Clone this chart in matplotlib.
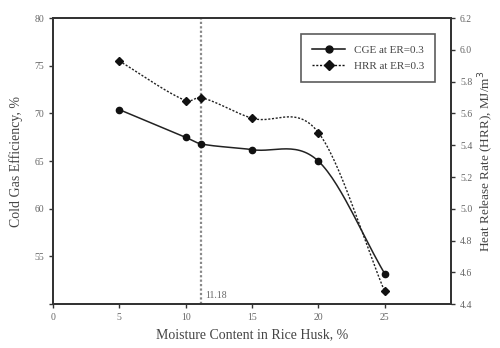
import numpy as np
import matplotlib
matplotlib.use("Agg")
import matplotlib.pyplot as plt
from matplotlib.lines import Line2D

plt.rcParams['font.family'] = ['Liberation Serif', 'DejaVu Serif']

moisture = [5, 10, 11.18, 15, 20, 25]
cge = [70.4, 67.5, 66.8, 66.2, 65.0, 53.2]
hrr = [5.93, 5.68, 5.70, 5.57, 5.48, 4.48]
x_ticks = [0, 5, 10, 15, 20, 25]
left_ticks = [50, 55, 60, 65, 70, 75, 80]
left_labels = ['', '55', '60', '65', '70', '75', '80']
right_ticks = [4.4, 4.6, 4.8, 5.0, 5.2, 5.4, 5.6, 5.8, 6.0, 6.2]
optimum = 11.18


def smooth(xs, ys, n=30):
    xs = np.asarray(xs, float)
    ys = np.asarray(ys, float)
    px = np.concatenate([[2 * xs[0] - xs[1]], xs, [2 * xs[-1] - xs[-2]]])
    py = np.concatenate([[2 * ys[0] - ys[1]], ys, [2 * ys[-1] - ys[-2]]])
    ox, oy = [], []
    for i in range(1, len(px) - 2):
        t = np.linspace(0, 1, n)
        h00 = 2 * t**3 - 3 * t**2 + 1
        h10 = t**3 - 2 * t**2 + t
        h01 = -2 * t**3 + 3 * t**2
        h11 = t**3 - t**2
        dx = px[i + 1] - px[i]
        m0 = (py[i + 1] - py[i - 1]) / (px[i + 1] - px[i - 1]) * dx
        m1 = (py[i + 2] - py[i]) / (px[i + 2] - px[i]) * dx
        ox.append(px[i] + t * dx)
        oy.append(h00 * py[i] + h10 * m0 + h01 * py[i + 1] + h11 * m1)
    return np.concatenate(ox), np.concatenate(oy)


fig = plt.figure(figsize=(5, 3.48), dpi=100)
ax = fig.add_axes([0.106, 0.126, 0.796, 0.822])
ax2 = ax.twinx()

spine_col = '#333333'
text_col = '#444444'

sx, sy = smooth(moisture, cge)
ax.plot(sx, sy, color='#222222', lw=1.1, zorder=3)
ax.plot(moisture, cge, 'o', color='#111111', ms=4.5, zorder=4)
hx, hy = smooth(moisture, hrr)
ax2.plot(hx, hy, color='#222222', lw=1.0, ls=(0, (1.5, 1.2)), zorder=3)
ax2.plot(moisture, hrr, 'D', color='#111111', ms=4.5, zorder=4)

ax.axvline(optimum, color='#888888', lw=1.6, ls=(0, (1, 1)), zorder=2)
ax.text(optimum + 0.3, 50.6, '11.18', fontsize=7, color='#666666')

ax.set_xlim(0, 30)
ax.set_ylim(50, 80)
ax2.set_ylim(4.4, 6.2)
ax.set_xticks(x_ticks)
ax.set_xticklabels([str(v) for v in x_ticks], fontsize=7, color='#666666')
ax.set_yticks(left_ticks)
ax.set_yticklabels(left_labels, fontsize=7, color='#666666')
ax2.set_yticks(right_ticks)
ax2.set_yticklabels(['%.1f' % v for v in right_ticks], fontsize=7, color='#666666')

for a in (ax, ax2):
    for s in a.spines.values():
        s.set_color(spine_col)
        s.set_linewidth(1.3)
    a.tick_params(length=3, width=1, color=spine_col, direction='out')

ax.set_xlabel('Moisture Content in Rice Husk, %', fontsize=10, color=text_col, labelpad=4)
ax.set_ylabel('Cold Gas Efficiency, %', fontsize=10, color=text_col, labelpad=8)
ax2.set_ylabel('Heat Release Rate (HRR), MJ/m$^3$', fontsize=9.5, color=text_col, labelpad=3)

handles = [Line2D([], [], color='#111111', lw=1.1, marker='o', ms=5),
           Line2D([], [], color='#111111', lw=1.0, ls=(0, (1.5, 1.2)), marker='D', ms=5)]
leg = ax.legend(handles, ['CGE at ER=0.3', 'HRR at ER=0.3'], loc='upper right',
                bbox_to_anchor=(0.975, 0.965), fontsize=8, frameon=True, fancybox=False,
                edgecolor=spine_col, handlelength=3.0, borderpad=1.0, labelspacing=0.6)
leg.get_frame().set_linewidth(1.2)
for t in leg.get_texts():
    t.set_color(text_col)

fig.savefig('out.png', dpi=100)
